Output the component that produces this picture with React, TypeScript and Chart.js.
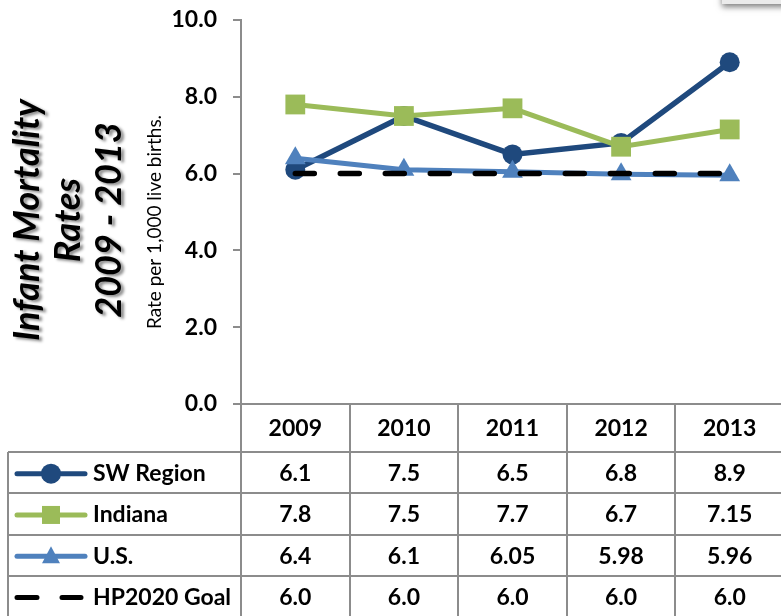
import React, { useEffect, useRef } from "react";
import { Chart, registerables } from "chart.js";

Chart.register(...registerables);

const years = ["2009", "2010", "2011", "2012", "2013"];
const swRegion = [6.1, 7.5, 6.5, 6.8, 8.9];
const indiana = [7.8, 7.5, 7.7, 6.7, 7.15];
const usRate = [6.4, 6.1, 6.05, 5.98, 5.96];
const hp2020Goal = [6.0, 6.0, 6.0, 6.0, 6.0];
const seriesNames = ["SW Region", "Indiana", "U.S.", "HP2020 Goal"];
const yTickValues = [0, 2, 4, 6, 8, 10];
const titleLines = ["Infant Mortality", "Rates", "2009 - 2013"];
const yAxisTitle = "Rate per 1,000 live births.";

const FONT = "Lato, 'Open Sans', 'DejaVu Sans', sans-serif";
const GRID = "#8c8c8c";
const C_SW = "#1F497D";
const C_IN = "#9BBB59";
const C_US = "#4F81BD";
const C_HP = "#000000";

const fmt = (v: number) => (Number.isInteger(v) ? v.toFixed(1) : String(v));

const seriesData = [swRegion, indiana, usRate, hp2020Goal];
const seriesColors = [C_SW, C_IN, C_US, C_HP];
const seriesMarkers = ["circle", "rect", "triangle", "dash"];

function drawMarker(ctx: CanvasRenderingContext2D, kind: string, x: number, y: number, color: string) {
  ctx.fillStyle = color;
  if (kind === "circle") {
    ctx.beginPath();
    ctx.arc(x, y, 10, 0, Math.PI * 2);
    ctx.fill();
  } else if (kind === "rect") {
    ctx.fillRect(x - 9, y - 9, 18, 18);
  } else if (kind === "triangle") {
    ctx.beginPath();
    ctx.moveTo(x, y - 10);
    ctx.lineTo(x + 9, y + 7);
    ctx.lineTo(x - 9, y + 7);
    ctx.closePath();
    ctx.fill();
  }
}

const decorPlugin = {
  id: "decor",
  beforeDraw(chart: any) {
    const ctx: CanvasRenderingContext2D = chart.ctx;
    ctx.save();
    ctx.shadowColor = "rgba(0,0,0,0.5)";
    ctx.shadowBlur = 6;
    ctx.shadowOffsetY = 3;
    ctx.fillStyle = "#ebebeb";
    ctx.fillRect(722, -20, 100, 24);
    ctx.restore();

    ctx.save();
    ctx.font = `italic bold 36px ${FONT}`;
    ctx.textAlign = "center";
    ctx.textBaseline = "alphabetic";
    ctx.shadowColor = "rgba(0,0,0,0.45)";
    ctx.shadowBlur = 3;
    ctx.shadowOffsetX = 3;
    ctx.shadowOffsetY = 2;
    ctx.fillStyle = "#000";
    const baselines = [39, 80, 121];
    titleLines.forEach((t, i) => {
      ctx.save();
      ctx.translate(baselines[i], 220);
      ctx.rotate(-Math.PI / 2);
      ctx.fillText(t, 0, 0);
      ctx.restore();
    });
    ctx.restore();

    ctx.save();
    ctx.font = `19px ${FONT}`;
    ctx.fillStyle = "#000";
    ctx.textAlign = "center";
    ctx.textBaseline = "alphabetic";
    ctx.translate(161, 222);
    ctx.rotate(-Math.PI / 2);
    ctx.fillText(yAxisTitle, 0, 0);
    ctx.restore();
  },
  afterDraw(chart: any) {
    const ctx: CanvasRenderingContext2D = chart.ctx;
    const ca = chart.chartArea;
    const xs = chart.scales.x;
    const n = years.length;
    const w = (ca.right - ca.left) / n;
    const top = ca.bottom;
    const headerBottom = top + 48;
    const rowH = 41.3;
    const tableLeft = 8;
    const bottom = chart.height + 5;

    ctx.save();
    ctx.strokeStyle = GRID;
    ctx.lineWidth = 2;
    ctx.beginPath();
    ctx.moveTo(ca.left - 8, top);
    ctx.lineTo(ca.right, top);
    ctx.stroke();
    for (let i = 0; i <= n; i++) {
      const x = Math.round(ca.left + i * w);
      ctx.beginPath();
      ctx.moveTo(x, top);
      ctx.lineTo(x, bottom);
      ctx.stroke();
    }
    ctx.beginPath();
    ctx.moveTo(tableLeft, headerBottom);
    ctx.lineTo(tableLeft, bottom);
    ctx.stroke();
    for (let r = 0; r <= seriesNames.length; r++) {
      const y = Math.round(headerBottom + r * rowH);
      ctx.beginPath();
      ctx.moveTo(tableLeft, y);
      ctx.lineTo(ca.right, y);
      ctx.stroke();
    }

    ctx.fillStyle = "#000";
    ctx.font = `bold 23px ${FONT}`;
    ctx.textAlign = "center";
    ctx.textBaseline = "middle";
    years.forEach((yr, i) => {
      ctx.fillText(yr, xs.getPixelForValue(i), (top + headerBottom) / 2 + 1);
    });

    seriesNames.forEach((name, r) => {
      const cy = headerBottom + r * rowH + rowH / 2 + 1;
      const color = seriesColors[r];
      ctx.save();
      ctx.strokeStyle = color;
      ctx.lineWidth = 5;
      ctx.lineCap = "round";
      ctx.beginPath();
      if (seriesMarkers[r] === "dash") {
        ctx.moveTo(17, cy);
        ctx.lineTo(37, cy);
        ctx.moveTo(62, cy);
        ctx.lineTo(81, cy);
        ctx.stroke();
      } else {
        ctx.moveTo(17, cy);
        ctx.lineTo(85, cy);
        ctx.stroke();
        drawMarker(ctx, seriesMarkers[r], 51, cy, color);
      }
      ctx.restore();
      ctx.fillStyle = "#000";
      ctx.font = `bold 23px ${FONT}`;
      ctx.textAlign = "left";
      ctx.fillText(name, 93, cy);
      ctx.textAlign = "center";
      seriesData[r].forEach((v, i) => {
        ctx.fillText(fmt(v), xs.getPixelForValue(i), cy);
      });
    });
    ctx.restore();
  },
};

export default function App() {
  const ref = useRef<HTMLCanvasElement | null>(null);
  useEffect(() => {
    if (!ref.current) return;
    const chart = new Chart(ref.current, {
      type: "line",
      data: {
        labels: years,
        datasets: [
          {
            label: seriesNames[0],
            data: swRegion,
            borderColor: C_SW,
            backgroundColor: C_SW,
            borderWidth: 5.5,
            pointStyle: "circle",
            pointRadius: 10,
            pointBorderWidth: 0,
            order: 3,
          },
          {
            label: seriesNames[1],
            data: indiana,
            borderColor: C_IN,
            backgroundColor: C_IN,
            borderWidth: 5,
            pointStyle: "rect",
            pointRadius: 14,
            pointBorderWidth: 0,
            order: 2,
          },
          {
            label: seriesNames[2],
            data: usRate,
            borderColor: C_US,
            backgroundColor: C_US,
            borderWidth: 5,
            pointStyle: "triangle",
            pointRadius: 12,
            pointBorderWidth: 0,
            order: 1,
          },
          {
            label: seriesNames[3],
            data: hp2020Goal,
            borderColor: C_HP,
            backgroundColor: C_HP,
            borderWidth: 5.5,
            borderDash: [19, 26],
            borderCapStyle: "round",
            pointRadius: 0,
            order: 0,
          },
        ],
      },
      options: {
        responsive: false,
        maintainAspectRatio: false,
        animation: false,
        devicePixelRatio: 1,
        clip: false,
        layout: { autoPadding: false, padding: { left: 0, top: 20, right: 6, bottom: 212 } },
        plugins: { legend: { display: false }, tooltip: { enabled: false } },
        elements: { line: { tension: 0 } },
        scales: {
          x: { display: false, offset: true },
          y: {
            min: 0,
            max: 10,
            afterBuildTicks: (scale: any) => {
              scale.ticks = yTickValues.map((v) => ({ value: v }));
            },
            afterFit: (scale: any) => {
              scale.width = 241;
              scale.paddingTop = 0;
              scale.paddingBottom = 0;
            },
            ticks: {
              padding: 16,
              color: "#000",
              font: { family: FONT, size: 23, weight: "bold" },
              callback: (v: any) => Number(v).toFixed(1),
            },
            grid: {
              drawOnChartArea: false,
              drawTicks: true,
              tickLength: 8,
              color: GRID,
              lineWidth: 2,
            },
            border: { display: true, color: GRID, width: 2 },
          },
        },
      },
      plugins: [decorPlugin],
    } as any);
    return () => chart.destroy();
  }, []);
  return (
    <div style={{ position: "absolute", left: 0, top: 0, width: 781, height: 616, overflow: "hidden", background: "#fff" }}>
      <div style={{ width: 790, height: 616 }}>
        <canvas ref={ref} width={790} height={616} style={{ width: 790, height: 616, display: "block" }} />
      </div>
    </div>
  );
}
